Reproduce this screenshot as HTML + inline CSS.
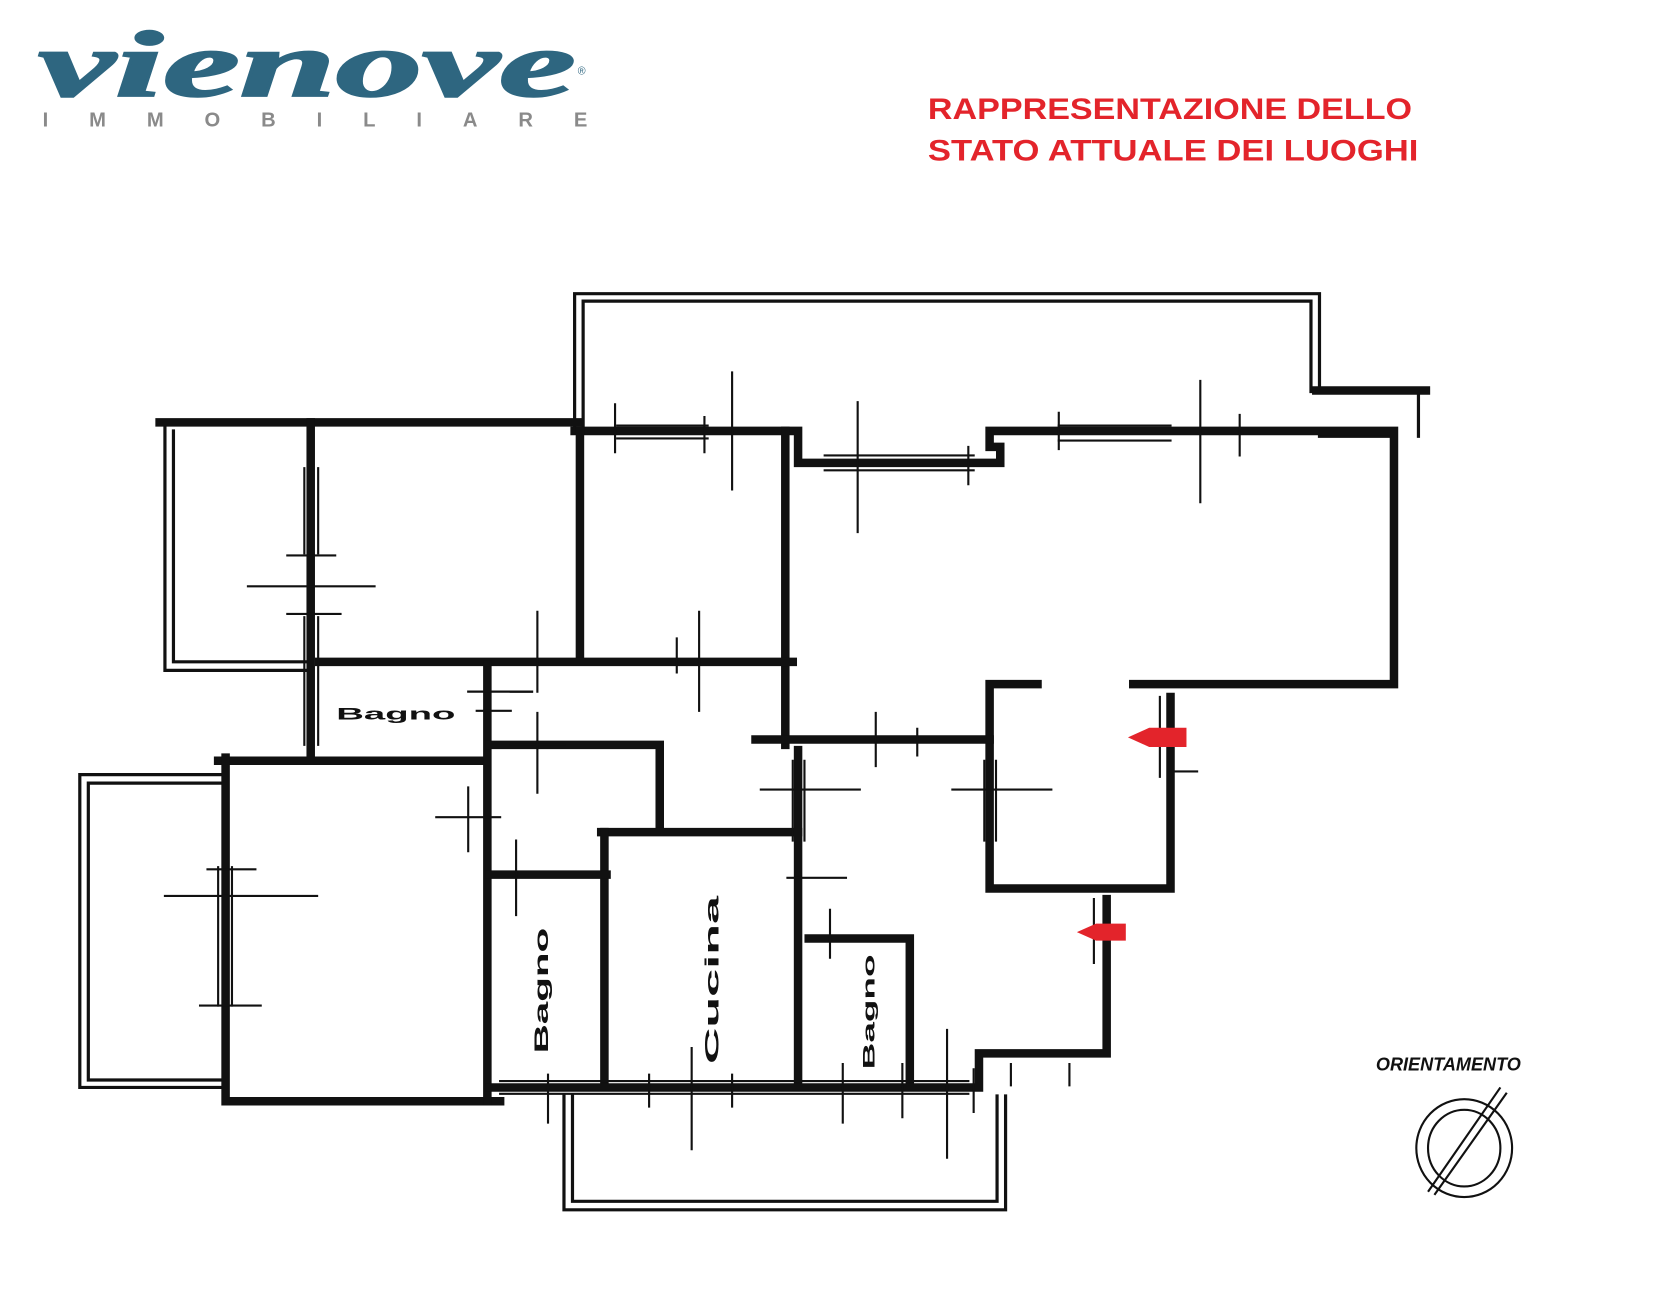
<!DOCTYPE html>
<html><head><meta charset="utf-8"><style>
html,body{margin:0;padding:0;background:#fff;}
svg{display:block;}
</style></head><body>
<svg width="1660" height="1296" viewBox="0 0 1560 1218" preserveAspectRatio="none" xmlns="http://www.w3.org/2000/svg">
<rect width="1560" height="1218" fill="#fff"/>
<!-- logo -->
<text x="36" y="90" font-family="Liberation Serif, serif" font-weight="bold" font-style="italic" font-size="88" fill="#2e6680" stroke="#2e6680" stroke-width="2" textLength="505" lengthAdjust="spacingAndGlyphs">vienove</text>
<text x="543" y="70" font-family="Liberation Sans, sans-serif" font-size="10" fill="#2e6680">®</text>
<text x="40" y="119" font-family="Liberation Sans, sans-serif" font-weight="bold" font-size="19" fill="#8a8a8a" textLength="512" lengthAdjust="spacing">IMMOBILIARE</text>
<!-- title -->
<text x="872" y="112" font-family="Liberation Sans, sans-serif" font-weight="bold" font-size="28" fill="#e3242b" textLength="455" lengthAdjust="spacingAndGlyphs">RAPPRESENTAZIONE DELLO</text>
<text x="872" y="151" font-family="Liberation Sans, sans-serif" font-weight="bold" font-size="28" fill="#e3242b" textLength="461" lengthAdjust="spacingAndGlyphs">STATO ATTUALE DEI LUOGHI</text>

<g fill="none" stroke="#111" stroke-linecap="square">
<g stroke-width="3">
<path d="M540 400 V276 H1240 V368"/>
<path d="M548 400 V283 H1232 V368"/>
<path d="M155 397 V630 H290"/>
<path d="M163 405 V622 H290"/>
<path d="M210 728 H75 V1022 H210"/>
<path d="M210 736 H83 V1015 H210"/>
<path d="M530 1030 V1137 H945 V1030"/>
<path d="M538 1030 V1129 H937 V1030"/>
<path d="M1333 370 V410"/>
<path d="M1240 410 H1310"/>
</g>
<g stroke-width="8">
<path d="M150 397 H545"/>
<path d="M540 405 H750 V435 H940 V420 H930 V405 H1310 V643 H1065"/>
<path d="M1237 367 H1340"/>
<path d="M975 643 H930 V835 H1100 V655"/>
<path d="M738 405 V700"/>
<path d="M545 405 V620"/>
<path d="M300 622 H745"/>
<path d="M292 397 V715"/>
<path d="M205 715 H455"/>
<path d="M212 712 V1035 H470"/>
<path d="M458 625 V1035"/>
<path d="M460 700 H620 V780"/>
<path d="M565 782 H750"/>
<path d="M568 782 V1020"/>
<path d="M460 822 H570"/>
<path d="M750 705 V1020"/>
<path d="M760 882 H855 V1020"/>
<path d="M460 1022 H920 V990 H1040 V845"/>
<path d="M710 695 H930"/>
</g>
<g stroke-width="2">
<path d="M580 400 H665 M580 412 H665"/>
<path d="M775 428 H915 M775 442 H915"/>
<path d="M995 400 H1100 M995 414 H1100"/>
<path d="M286 440 V520 M299 440 V520"/>
<path d="M286 580 V700 M299 580 V700"/>
<path d="M205 815 V945 M218 815 V945"/>
<path d="M470 1016 H910 M470 1028 H910"/>
<path d="M745 715 V790 M756 715 V790"/>
<path d="M925 715 V790 M936 715 V790"/>
</g>
<g stroke-width="2">
<path d="M688 350 V460 M806 378 V500 M1128 358 V472 M578 380 V425 M662 392 V425 M910 420 V455 M995 388 V422 M1165 390 V428"/>
<path d="M233 551 H352 M270 522 H315 M270 577 H320"/>
<path d="M505 575 V650 M657 575 V668 M636 600 V632 M480 650 H500"/>
<path d="M440 650 H500 M448 668 H480"/>
<path d="M505 670 V745 M480 700 H530"/>
<path d="M410 768 H470 M440 740 V800 M485 790 V860"/>
<path d="M155 842 H298 M195 817 H240 M188 945 H245"/>
<path d="M715 742 H808 M895 742 H988 M740 825 H795"/>
<path d="M823 670 V720 M862 685 V710"/>
<path d="M1090 655 V730 M1100 725 H1125"/>
<path d="M1028 845 V905"/>
<path d="M650 985 V1080 M780 855 V900 M890 968 V1088 M515 1010 V1055 M610 1010 V1040 M688 1010 V1040 M792 1000 V1055 M848 1000 V1050 M915 1005 V1045"/>
<path d="M950 1000 V1020 M1005 1000 V1020"/>
</g>
</g>
<text x="316" y="676" font-family="Liberation Sans, sans-serif" font-weight="bold" font-size="16" fill="#111" textLength="112" lengthAdjust="spacingAndGlyphs">Bagno</text>
<text transform="translate(515,990) rotate(-90)" font-family="Liberation Sans, sans-serif" font-weight="bold" font-size="18" fill="#111" textLength="118" lengthAdjust="spacingAndGlyphs">Bagno</text>
<text transform="translate(675,1000) rotate(-90)" font-family="Liberation Sans, sans-serif" font-weight="bold" font-size="18" fill="#111" textLength="158" lengthAdjust="spacingAndGlyphs">Cucina</text>
<text transform="translate(822,1005) rotate(-90)" font-family="Liberation Sans, sans-serif" font-weight="bold" font-size="16" fill="#111" textLength="108" lengthAdjust="spacingAndGlyphs">Bagno</text>
<path d="M1060 693 L1080 684 H1115 V702 H1080 Z" fill="#e3242b"/>
<path d="M1012 876 L1030 868 H1058 V884 H1030 Z" fill="#e3242b"/>
<text x="1293" y="1006" font-family="Liberation Sans, sans-serif" font-weight="bold" font-style="italic" font-size="17" fill="#111">ORIENTAMENTO</text>
<g fill="none" stroke="#111" stroke-width="2">
<ellipse cx="1376" cy="1079" rx="45" ry="46"/>
<ellipse cx="1376" cy="1079" rx="34" ry="36"/>
<path d="M1342 1120 L1410 1022 M1348 1123 L1416 1027"/>
</g>
</svg>
</body></html>
